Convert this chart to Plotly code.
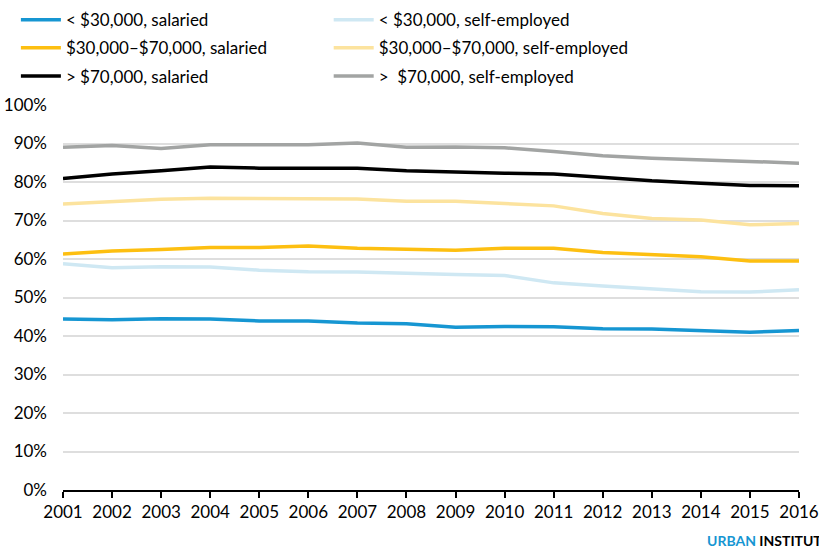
import plotly.graph_objects as go

years = list(range(2001, 2017))

low_salaried = [44.4, 44.2, 44.5, 44.4, 43.9, 43.9, 43.4, 43.2, 42.3, 42.5, 42.4, 41.9, 41.8, 41.5, 41.0, 41.4]
low_self = [58.8, 57.7, 58.0, 57.9, 57.1, 56.7, 56.6, 56.2, 56.0, 55.7, 53.8, 53.0, 52.2, 51.5, 51.4, 52.0]
mid_salaried = [61.3, 62.1, 62.5, 63.0, 63.0, 63.4, 62.8, 62.5, 62.3, 62.8, 62.8, 61.7, 61.2, 60.6, 59.5, 59.5]
mid_self = [74.3, 74.9, 75.5, 75.8, 75.8, 75.8, 75.6, 75.0, 75.0, 74.4, 73.8, 71.8, 70.5, 70.1, 68.9, 69.2]
high_salaried = [80.9, 82.1, 82.9, 83.9, 83.6, 83.5, 83.6, 82.9, 82.5, 82.3, 82.1, 81.1, 80.3, 79.7, 79.1, 79.0]
high_self = [89.0, 89.5, 88.7, 89.7, 89.7, 89.7, 90.1, 89.0, 89.1, 88.9, 87.9, 86.8, 86.2, 85.7, 85.2, 84.9]

series = [
    ("< $30,000, salaried", low_salaried, "#1696d2", "legend"),
    ("$30,000–$70,000, salaried", mid_salaried, "#fdbf11", "legend"),
    ("> $70,000, salaried", high_salaried, "#000000", "legend"),
    ("< $30,000, self-employed", low_self, "#cfe8f3", "legend2"),
    ("$30,000–$70,000, self-employed", mid_self, "#fce39e", "legend2"),
    (">  $70,000, self-employed", high_self, "#a2a4a3", "legend2"),
]

y_ticks = list(range(0, 101, 10))

fig = go.Figure()
for i, (name, vals, color, leg) in enumerate(series):
    fig.add_trace(go.Scatter(
        x=years, y=vals, name=name, mode="lines",
        line=dict(color=color, width=3.5),
        legend=leg, legendgroup=f"g{i}",
    ))

font = "Lato, 'Open Sans', sans-serif"
leg_common = dict(
    orientation="v", yanchor="top", xanchor="left",
    font=dict(family=font, size=17, color="#000000"),
    itemwidth=40, tracegroupgap=3, bgcolor="rgba(0,0,0,0)",
    borderwidth=0, itemclick=False, itemdoubleclick=False,
)

fig.update_layout(
    width=819, height=551,
    margin=dict(l=63, r=20, t=105, b=61, autoexpand=False),
    paper_bgcolor="white", plot_bgcolor="white",
    font=dict(family=font, size=17, color="#000000"),
    showlegend=True,
    legend=dict(x=-0.064, y=1.267, **leg_common),
    legend2=dict(x=0.361, y=1.267, **leg_common),
    xaxis=dict(
        range=[2001, 2016], tickmode="array", tickvals=years,
        ticktext=[str(y) for y in years],
        showgrid=False, zeroline=False, automargin=False,
        showline=True, linecolor="#000000", linewidth=2,
        ticks="outside", ticklen=6, tickwidth=2, tickcolor="#000000",
        tickfont=dict(family=font, size=17, color="#000000"),
    ),
    yaxis=dict(
        range=[0, 100], tickmode="array", tickvals=y_ticks,
        ticktext=[f"{v}%" for v in y_ticks],
        showgrid=True, gridcolor="#dedede", gridwidth=1.5,
        zeroline=False, showline=False, ticks="", automargin=False,
        ticklabelstandoff=15,
        tickfont=dict(family=font, size=17, color="#000000"),
    ),
    annotations=[dict(
        text="<b><span style='color:#1696d2'>URBAN</span> INSTITUTE</b>",
        xref="paper", yref="paper", x=0.872, y=-0.13,
        xanchor="left", yanchor="middle", showarrow=False,
        font=dict(family=font, size=14, color="#000000"),
    )],
)

fig.write_html(
    "out.html",
    config={"displayModeBar": False},
    post_script="document.body.style.margin='0';document.body.style.overflow='hidden';",
)
